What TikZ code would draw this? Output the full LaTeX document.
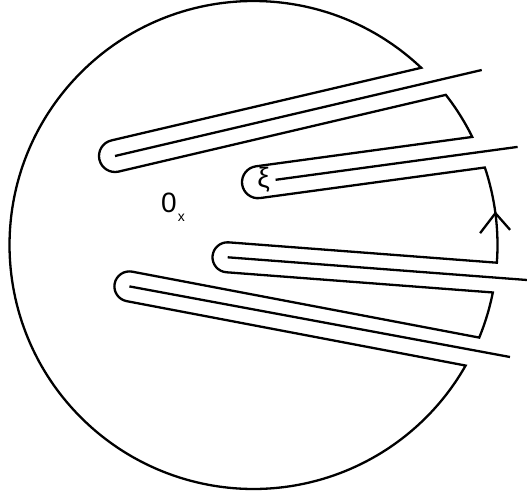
\documentclass[tikz,border=0pt]{standalone}
\usepackage{fontspec}
\setmainfont{Liberation Sans}
\begin{document}
\begin{tikzpicture}[x=1pt,y=1pt,
  contour/.style={line width=2.3pt, line join=miter},
  cutline/.style={line width=2.3pt},
  lbl/.style={inner sep=0pt, font=\fontsize{28}{30}\selectfont},
  sublbl/.style={inner sep=0pt, font=\fontsize{14}{16}\selectfont}]
\useasboundingbox (0,0) rectangle (527,496);
\coordinate (C) at (253.5,251);
% lower edge start points of the slits (next to the rounded tips)
\coordinate (L1) at (118.65,324.42);
\coordinate (L2) at (260.15,297.95);
\coordinate (L3) at (226.36,223.74);
\coordinate (L4) at (126.6,194.86);
% cut lines
\coordinate (P1) at (115,340);
\coordinate (E1) at (481.7,426);
\coordinate (P2) at (275.6,316.2);
\coordinate (E2) at (517.6,349.1);
\coordinate (P3) at (227.7,238.7);
\coordinate (E3) at (527,216);
\coordinate (P4) at (129.4,209.6);
\coordinate (E4) at (510,139);
% contour
\draw[contour] ([shift={(C)}]46.58:244) arc[start angle=46.58, end angle=330.39, radius=244pt]
  -- (L4) arc[start angle=-100.76, end angle=-280.76, radius=15pt] -- ([shift={(C)}]-22.30:244)
  arc[start angle=-22.30, end angle=-11.22, radius=244pt]
  -- (L3) arc[start angle=-94.34, end angle=-274.34, radius=15pt] -- ([shift={(C)}]-4.16:244)
  arc[start angle=-4.16, end angle=18.52, radius=244pt]
  -- (L2) arc[start angle=-82.26, end angle=-262.26, radius=16pt] -- ([shift={(C)}]26.29:244)
  arc[start angle=26.29, end angle=37.98, radius=244pt]
  -- (L1) arc[start angle=-76.8, end angle=-256.8, radius=16pt] -- cycle;
% cuts
\draw[cutline] (P1) -- (E1);
\draw[cutline] (P2) -- (E2);
\draw[cutline] (P3) -- (E3);
\draw[cutline] (P4) -- (E4);
% orientation arrow
\coordinate (T) at ([shift={(C)}]7.5:244);
\draw[cutline, line join=miter] (T) ++(-15.3,-20) -- (T) -- ++(14.7,-16.7);
% labels
\node[lbl] (zero) at (169,293) {0};
\node[sublbl] (sub) at (181.3,278.3) {x};
\node[lbl] (xi) at (263.7,315.8) {ξ};
\end{tikzpicture}
\end{document}
